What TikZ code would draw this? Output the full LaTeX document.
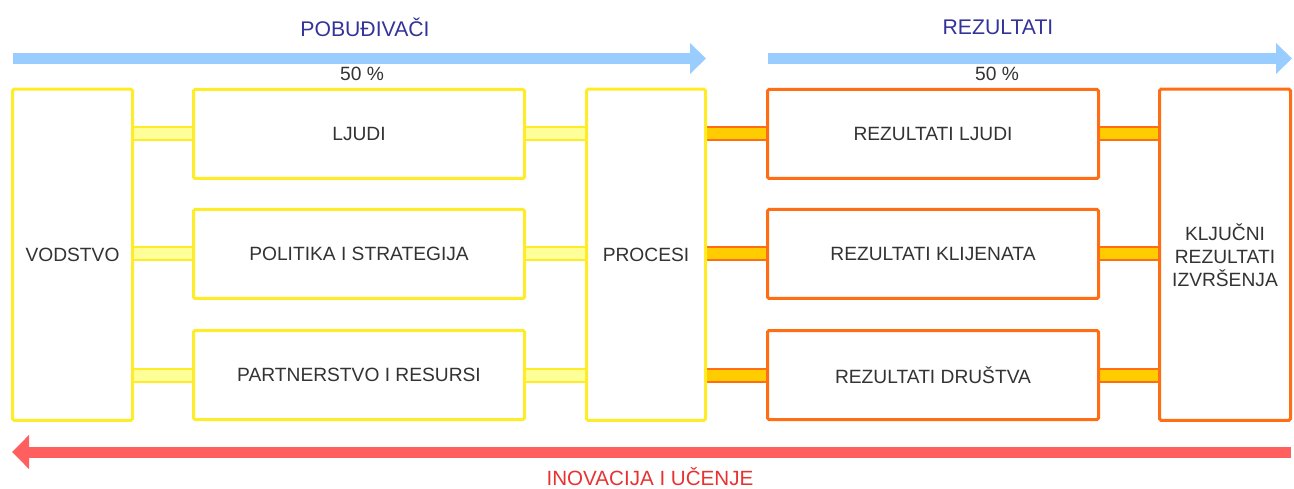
\documentclass[tikz,border=0pt]{standalone}
\usepackage{fontspec}
\setmainfont{Liberation Sans}
\usetikzlibrary{arrows.meta,backgrounds}
\definecolor{ybox}{RGB}{255,236,40}
\definecolor{ybarfill}{RGB}{255,255,153}
\definecolor{obox}{RGB}{255,110,20}
\definecolor{obarfill}{RGB}{255,204,0}
\definecolor{blueA}{RGB}{153,204,255}
\definecolor{redA}{RGB}{255,95,95}
\definecolor{headblue}{RGB}{51,51,153}
\definecolor{redtxt}{RGB}{232,50,50}
\definecolor{txt}{RGB}{51,51,51}
\newcommand{\bodyfnt}{\fontsize{19.2}{23}\selectfont}
\newcommand{\headfnt}{\fontsize{21.2}{25}\selectfont}
\newcommand{\redfnt}{\fontsize{20.6}{24}\selectfont}
\begin{document}
\begin{tikzpicture}[x=1pt,y=-1pt,
  yb/.style={draw=ybox, line width=3pt, rounded corners=1.5pt, fill=white, inner sep=0pt,
    font=\bodyfnt, text=txt, align=center, minimum width=331pt, minimum height=89pt},
  ob/.style={yb, draw=obox},
  tallbox/.style={minimum height=331pt},
  ybar/.style={draw=ybox, line width=2pt, double=ybarfill, double distance=11pt},
  obar/.style={draw=obox, line width=2pt, double=obarfill, double distance=11pt},
  barrow/.style={draw=blueA, line width=10.5pt, -{Triangle[width=30pt,length=16pt]}},
  rarrow/.style={draw=redA, line width=11pt, -{Triangle[width=33pt,length=17pt]}},
  head/.style={font=\headfnt, text=headblue, inner sep=0pt},
  pct/.style={font=\bodyfnt, text=txt, inner sep=0pt}]
\useasboundingbox (0,0) rectangle (1294,489);

% boxes
\node[yb, tallbox, minimum width=120pt] (vod) at (72.5,254.75) {VODSTVO};
\node[yb] (lj) at (359,134) {LJUDI};
\node[yb] (pol) at (359,254) {POLITIKA I STRATEGIJA};
\node[yb] (par) at (359,375) {PARTNERSTVO I RESURSI};
\node[yb, tallbox, minimum width=119pt] (proc) at (646,254.75) {PROCESI};
\node[ob] (rlj) at (933,134) {REZULTATI LJUDI};
\node[ob] (rkl) at (933,254) {REZULTATI KLIJENATA};
\node[ob] (rdr) at (933,375) {REZULTATI DRUŠTVA};
\node[ob, tallbox, minimum width=131pt] (klj) at (1225,254.75) {KLJUČNI\\REZULTATI\\IZVRŠENJA};

% connector bars
\begin{scope}[on background layer]
\draw[ybar] (vod.east |- lj.west) -- (lj.west);
\draw[ybar] (vod.east |- pol.west) -- (pol.west);
\draw[ybar] (vod.east |- par.west) -- (par.west);
\draw[ybar] (lj.east) -- (proc.west |- lj.east);
\draw[ybar] (pol.east) -- (proc.west |- pol.east);
\draw[ybar] (par.east) -- (proc.west |- par.east);
\draw[obar] (proc.east |- rlj.west) -- (rlj.west);
\draw[obar] (proc.east |- rkl.west) -- (rkl.west);
\draw[obar] (proc.east |- rdr.west) -- (rdr.west);
\draw[obar] (rlj.east) -- (klj.west |- rlj.east);
\draw[obar] (rkl.east) -- (klj.west |- rkl.east);
\draw[obar] (rdr.east) -- (klj.west |- rdr.east);
\end{scope}

% arrows
\coordinate (b1s) at (13,58.5);
\coordinate (b1e) at (706,58.5);
\coordinate (b2s) at (768,58.5);
\coordinate (b2e) at (1292,58.5);
\coordinate (rs) at (1291,452);
\coordinate (re) at (12,452);
\draw[barrow] (b1s) -- (b1e);
\draw[barrow] (b2s) -- (b2e);
\draw[rarrow] (rs) -- (re);

% labels
\node[head] (h1) at (365,27) {POBUĐIVAČI};
\node[head] (h2) at (998,27) {REZULTATI};
\node[pct] (p1) at (362,74) {50 \%};
\node[pct] (p2) at (997,74) {50 \%};
\node[font=\redfnt, text=redtxt, inner sep=0pt] (h3) at (650,477) {INOVACIJA I UČENJE};
\end{tikzpicture}
\end{document}
